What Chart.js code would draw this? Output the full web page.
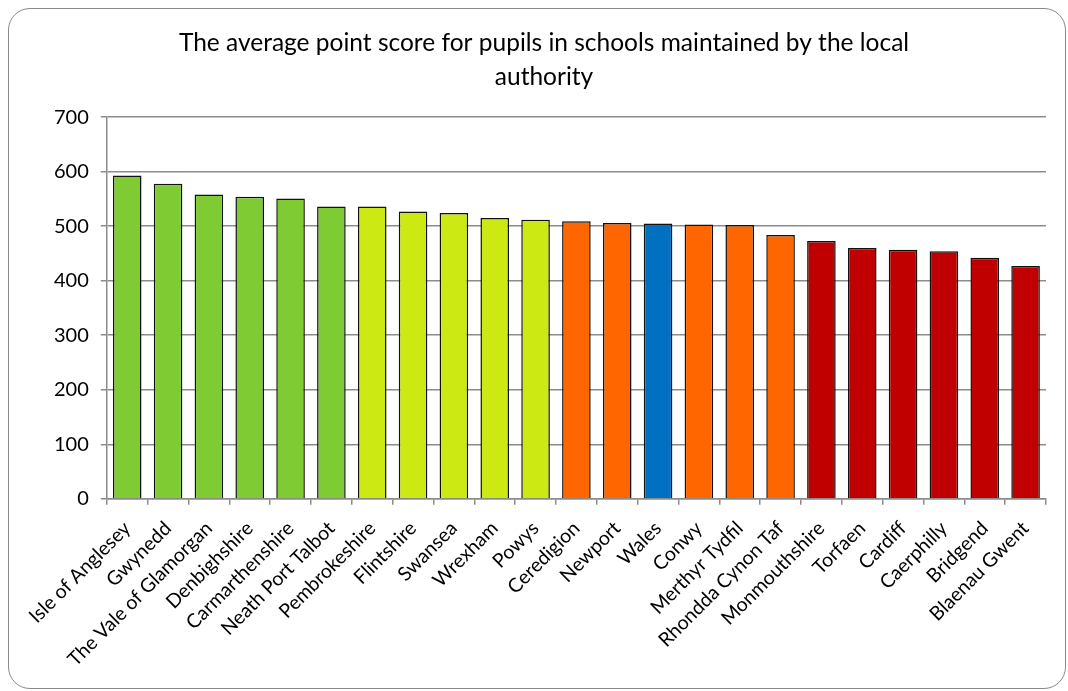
<!DOCTYPE html>
<html>
<head>
<meta charset="utf-8">
<script src="https://cdn.jsdelivr.net/npm/chart.js@4"></script>
<style>
    html, body { margin: 0; padding: 0; background: #fff; }
    #frame {
        position: absolute;
        left: 8px;
        top: 8px;
        width: 1056px;
        height: 679px;
        border: 1.5px solid #8a8a8a;
        border-radius: 22px;
        overflow: hidden;
    }
    #wrap { position: absolute; left: 0; top: 0; width: 1068px; height: 691px; }
</style>
</head>
<body>
<div id="frame"></div>
<div id="wrap"><canvas id="chart" width="1068" height="691"></canvas></div>
<script>
const authorities = [
    "Isle of Anglesey", "Gwynedd", "The Vale of Glamorgan", "Denbighshire",
    "Carmarthenshire", "Neath Port Talbot", "Pembrokeshire", "Flintshire",
    "Swansea", "Wrexham", "Powys", "Ceredigion", "Newport", "Wales", "Conwy",
    "Merthyr Tydfil", "Rhondda Cynon Taf", "Monmouthshire", "Torfaen",
    "Cardiff", "Caerphilly", "Bridgend", "Blaenau Gwent"
];
const pointScores = [
    593, 578, 558, 554, 551, 536, 536, 527, 524, 515, 512, 509, 506, 505,
    503, 502, 484, 473, 460, 457, 454, 442, 427
];
// colour band for each bar
const bands = [
    "top", "top", "top", "top", "top", "top",
    "upper", "upper", "upper", "upper", "upper",
    "lower", "lower", "wales", "lower", "lower", "lower",
    "bottom", "bottom", "bottom", "bottom", "bottom", "bottom"
];
const bandColours = {
    top: "#7fcb34",
    upper: "#cde914",
    lower: "#ff6600",
    wales: "#0070c0",
    bottom: "#c00000"
};
const yTicks = [0, 100, 200, 300, 400, 500, 600, 700];

const FONT = "Lato, 'Liberation Sans', sans-serif";
const ctx = document.getElementById("chart").getContext("2d");

new Chart(ctx, {
    type: "bar",
    data: {
        labels: authorities,
        datasets: [
            {
                data: pointScores,
                backgroundColor: bands.map((b) => bandColours[b]),
                borderColor: "#111",
                borderWidth: 1.5,
                borderSkipped: "bottom",
                barPercentage: 0.7,
                categoryPercentage: 1.0,
            },
        ],
    },
    options: {
        responsive: false,
        animation: false,
        layout: {
            padding: { left: 42, right: 22, top: 27, bottom: 8 },
        },
        plugins: {
            legend: { display: false },
            tooltip: { enabled: false },
            title: {
                display: true,
                text: [
                    "The average point score for pupils in schools maintained by the local",
                    "authority",
                ],
                color: "#000",
                font: { family: FONT, size: 24.5, weight: "normal", lineHeight: 1.35 },
                padding: { top: 0, bottom: 24 },
            },
        },
        scales: {
            x: {
                grid: {
                    offset: true,
                    drawOnChartArea: false,
                    color: "#8c8c8c",
                    lineWidth: 1.5,
                    tickLength: 6,
                },
                border: { color: "#8c8c8c", width: 1.5 },
                ticks: {
                    color: "#000",
                    font: { family: FONT, size: 19.5 },
                    maxRotation: 45,
                    minRotation: 45,
                    autoSkip: false,
                    padding: 12,
                },
            },
            y: {
                min: 0,
                max: 700,
                afterBuildTicks: (axis) => {
                    axis.ticks = yTicks.map((v) => ({ value: v }));
                },
                grid: {
                    color: "#8c8c8c",
                    lineWidth: 1.5,
                    tickLength: 6,
                },
                border: { color: "#8c8c8c", width: 1.5 },
                ticks: {
                    color: "#000",
                    font: { family: FONT, size: 20 },
                    padding: 12,
                },
            },
        },
    },
});
</script>
</body>
</html>
